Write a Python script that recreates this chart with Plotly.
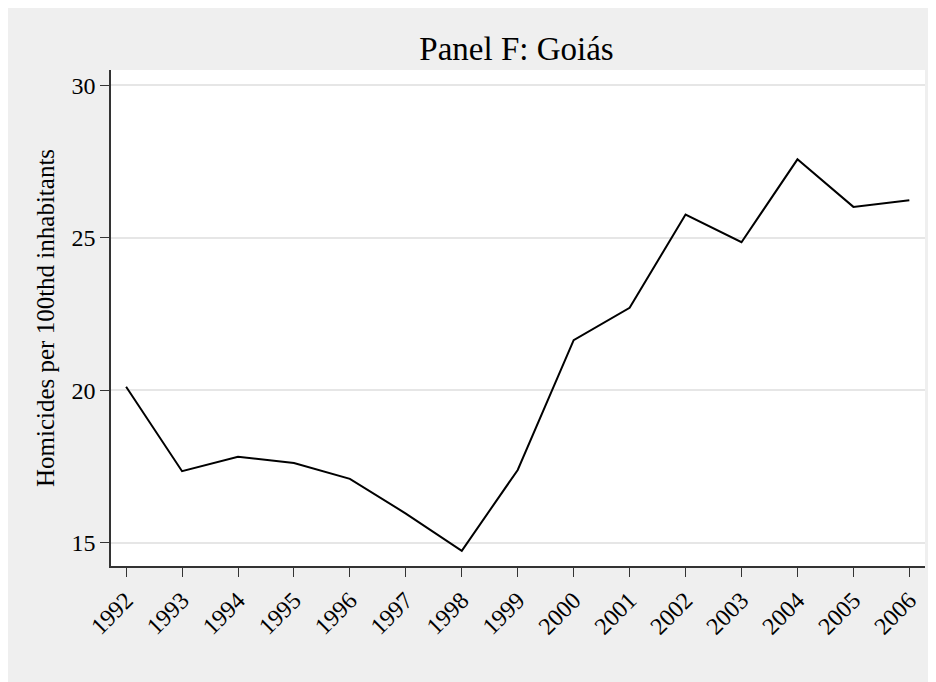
import plotly.graph_objects as go

years = list(range(1992, 2007))
homicides = [20.11, 17.34, 17.81, 17.61, 17.09, 15.95, 14.73, 17.38,
             21.64, 22.70, 25.76, 24.85, 27.57, 26.01, 26.23]
y_ticks = [15, 20, 25, 30]

serif = "Liberation Serif"

fig = go.Figure()
fig.add_trace(go.Scatter(
    x=years, y=homicides, mode="lines",
    line=dict(color="black", width=2),
    showlegend=False,
))

fig.update_layout(
    width=936, height=682,
    margin=dict(l=103, r=19, t=62, b=124),
    paper_bgcolor="#efefef",
    plot_bgcolor="white",
    font=dict(family=serif, color="black"),
    title=dict(text="Panel F: Goiás", x=508.5 / 936, xanchor="center",
               y=1 - 40 / 682, yanchor="middle", font=dict(size=33, family=serif)),
)

fig.update_xaxes(
    range=[1991.73, 2006.28],
    tickvals=years, ticktext=[str(y) for y in years],
    tickangle=-45, tickfont=dict(size=24, family=serif),
    showgrid=False, zeroline=False,
    showline=True, linecolor="#333333", linewidth=1.5,
    ticks="outside", ticklen=9, tickcolor="#333333",
)
fig.update_yaxes(
    range=[14.23, 30.5],
    tickvals=y_ticks, tickfont=dict(size=24, family=serif),
    showgrid=True, gridcolor="#e6e6e6", gridwidth=2,
    zeroline=False,
    showline=True, linecolor="#333333", linewidth=1.5,
    ticks="outside", ticklen=9, tickcolor="#333333",
    title=dict(text="Homicides per 100thd inhabitants",
               font=dict(size=25, family=serif), standoff=10),
)

fig.write_html("out.html")
